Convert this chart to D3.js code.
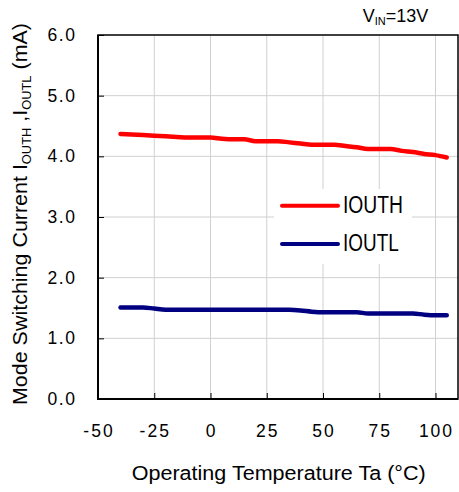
<!DOCTYPE html>
<html><head><meta charset="utf-8">
<script src="https://cdn.jsdelivr.net/npm/d3@7"></script>
<style>body{margin:0;background:#fff}text{font-family:"Liberation Sans",Arial,sans-serif;fill:#000}</style>
</head><body>
<script>
const temps = [-40,-35,-30,-25,-20,-15,-10,-5,0,5,10,15,20,25,30,35,40,45,50,55,60,65,70,75,80,85,90,95,100,105];
const ioutH = [4.37,4.36,4.35,4.34,4.33,4.32,4.31,4.31,4.31,4.29,4.28,4.28,4.25,4.25,4.25,4.23,4.21,4.19,4.19,4.19,4.17,4.15,4.12,4.12,4.12,4.09,4.07,4.04,4.02,3.98];
const ioutL = [1.51,1.51,1.51,1.49,1.47,1.47,1.47,1.47,1.47,1.47,1.47,1.47,1.47,1.47,1.47,1.47,1.46,1.44,1.43,1.43,1.43,1.43,1.41,1.41,1.41,1.41,1.41,1.39,1.38,1.38];
const xTicks = [-50,-25,0,25,50,75,100];
const yTicks = [0,1,2,3,4,5,6];
const seriesNames = ["IOUTH","IOUTL"];
const seriesColors = ["#ff0000","#000080"];

const W=459,H=492;
const svg=d3.select("body").append("svg").attr("width",W).attr("height",H);
const x=d3.scaleLinear().domain([-50,110]).range([98,458]);
const y=d3.scaleLinear().domain([0,6]).range([399,35]);

// grid
svg.append("g").selectAll("line").data(xTicks.slice(1)).join("line")
  .attr("x1",d=>x(d)).attr("x2",d=>x(d)).attr("y1",35).attr("y2",399)
  .attr("stroke","#d0d0d0").attr("stroke-width",1);
svg.append("g").selectAll("line").data(yTicks.slice(1,-1)).join("line")
  .attr("x1",98).attr("x2",458).attr("y1",d=>y(d)).attr("y2",d=>y(d))
  .attr("stroke","#d0d0d0").attr("stroke-width",1);

// axes with inside ticks
const ax=svg.append("g").attr("transform","translate(0,399)")
  .call(d3.axisTop(x).tickValues(xTicks).tickSize(6).tickFormat(""));
ax.select(".domain").remove();
ax.selectAll("line").attr("stroke","#000");
const ay=svg.append("g").attr("transform","translate(98,0)")
  .call(d3.axisRight(y).tickValues(yTicks).tickSize(6).tickFormat(""));
ay.select(".domain").remove();
ay.selectAll("line").attr("stroke","#000");

// frame
svg.append("rect").attr("x",98).attr("y",35).attr("width",360).attr("height",364)
  .attr("fill","none").attr("stroke","#000").attr("stroke-width",1.5);
svg.append("line").attr("x1",98).attr("x2",98).attr("y1",35).attr("y2",400).attr("stroke","#000").attr("stroke-width",2);
svg.append("line").attr("x1",97).attr("x2",458).attr("y1",399).attr("y2",399).attr("stroke","#000").attr("stroke-width",2);

// tick labels
svg.append("g").selectAll("text").data(yTicks).join("text")
  .attr("x",75).attr("y",d=>y(d)+6).attr("text-anchor","end")
  .style("font-size","17.5px").style("letter-spacing","1.6px").attr("dx",1.6)
  .text(d=>d.toFixed(1));
svg.append("g").selectAll("text").data(xTicks).join("text")
  .attr("x",d=>x(d)).attr("y",437).attr("text-anchor","middle")
  .style("font-size","17.5px").style("letter-spacing","2px").attr("dx",1)
  .text(d=>d);

// lines
const line=d3.line().x((d,i)=>x(temps[i])).y(d=>y(d)).curve(d3.curveMonotoneX);
[ioutH,ioutL].forEach((s,k)=>{
  svg.append("path").datum(s).attr("d",line).attr("fill","none")
    .attr("stroke",seriesColors[k]).attr("stroke-width",4.5)
    .attr("stroke-linecap","round").attr("stroke-linejoin","round");
});

// legend
svg.append("rect").attr("x",274).attr("y",189).attr("width",138).attr("height",75).attr("fill","#fff");
seriesNames.forEach((n,k)=>{
  const ly=[205.7,244][k];
  svg.append("line").attr("x1",282).attr("x2",338).attr("y1",ly).attr("y2",ly)
    .attr("stroke",seriesColors[k]).attr("stroke-width",4).attr("stroke-linecap","round");
  svg.append("text").attr("x",343).attr("y",[213.3,250.7][k]).style("font-size","23px")
    .attr("textLength",[60,55.7][k]).attr("lengthAdjust","spacingAndGlyphs").text(n);
});

// titles
svg.append("text").attr("x",131.7).attr("y",480).style("font-size","19.5px")
  .attr("textLength",294).attr("lengthAdjust","spacingAndGlyphs")
  .text("Operating Temperature Ta (°C)");

const yt=svg.append("text").attr("transform","translate(27,405) rotate(-90)")
  .style("font-size","20px").attr("textLength",382).attr("lengthAdjust","spacingAndGlyphs");
yt.append("tspan").text("Mode Switching Current I");
yt.append("tspan").attr("dy",4).style("font-size","12px").text("OUTH");
yt.append("tspan").attr("dy",-4).text(" ,I");
yt.append("tspan").attr("dy",4).style("font-size","12px").text("OUTL");
yt.append("tspan").attr("dy",-4).text(" (mA)");

const vt=svg.append("text").attr("x",362.7).attr("y",22).style("font-size","18px");
vt.append("tspan").text("V");
vt.append("tspan").attr("dy",3).style("font-size","11px").text("IN");
vt.append("tspan").attr("dy",-3).text("=13V");
</script>
</body></html>
